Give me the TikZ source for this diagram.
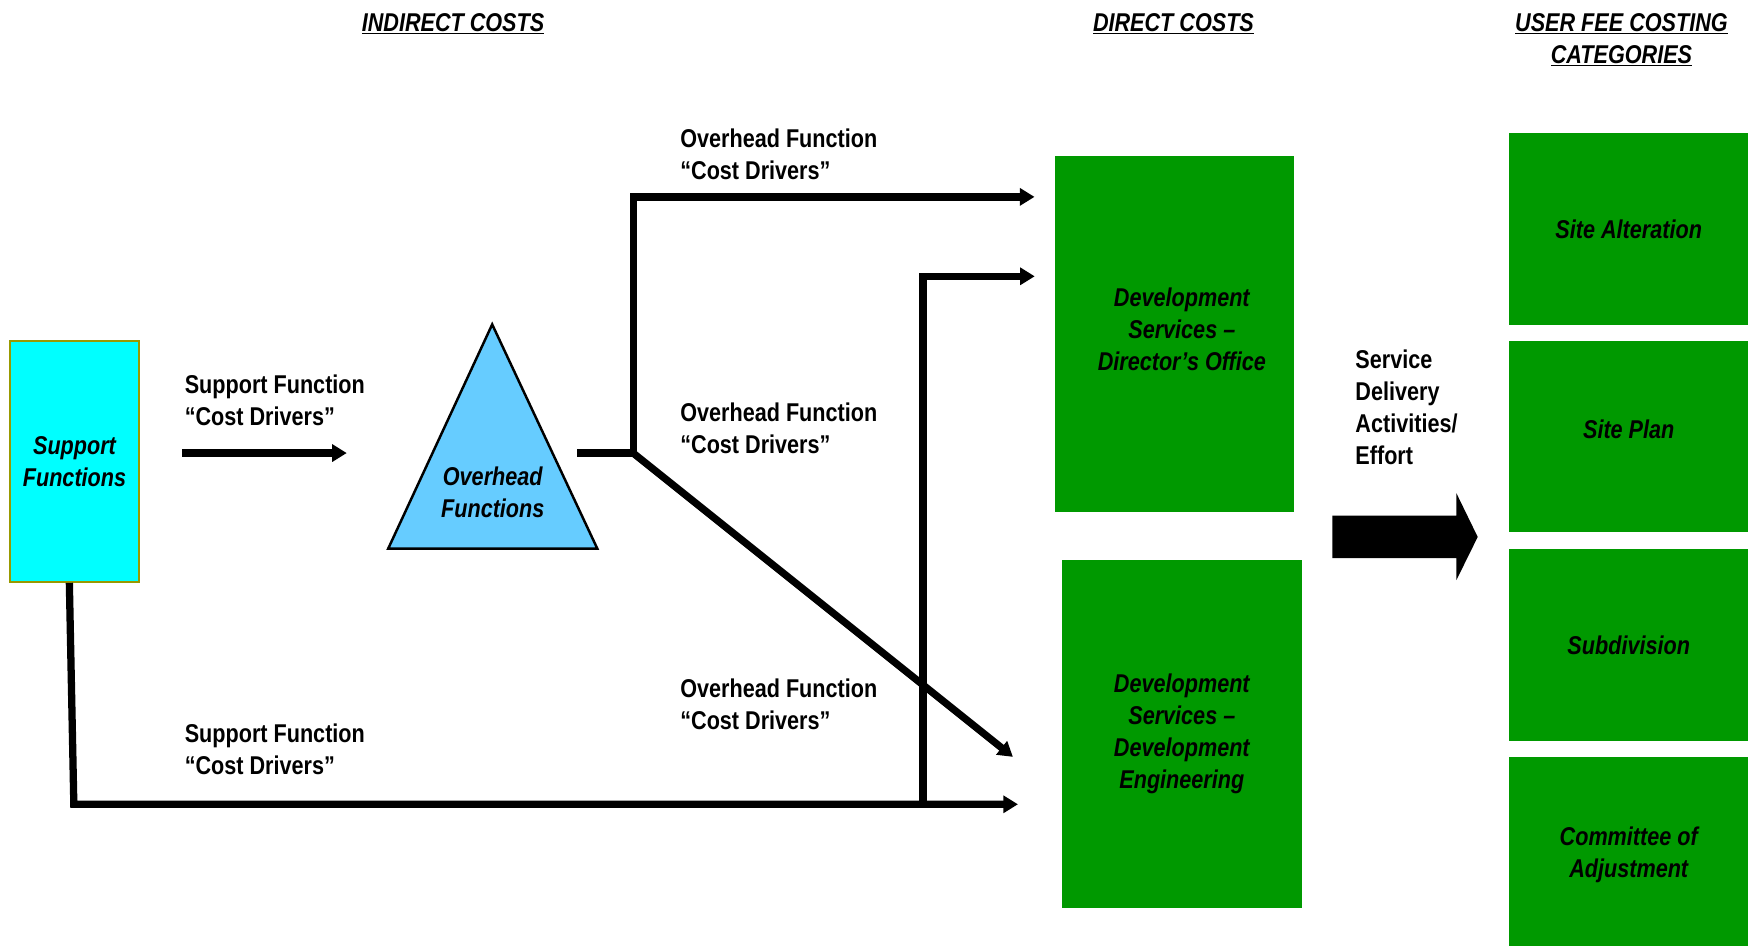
\documentclass[tikz,border=0pt]{standalone}
\usepackage{fontspec}
\setmainfont{Liberation Sans}[FakeStretch=0.84]
\usetikzlibrary{arrows.meta,calc}
\definecolor{boxgreen}{HTML}{009900}
\definecolor{supcyan}{HTML}{00FFFF}
\definecolor{supedge}{HTML}{999900}
\definecolor{ovblue}{HTML}{66CCFF}

\begin{document}
\begin{tikzpicture}[x=1pt,y=-1pt,
  txt/.style={font=\fontsize{23}{28.6}\selectfont\bfseries, inner sep=0pt, align=left, anchor=west},
  head/.style={font=\fontsize{23}{28.6}\selectfont\bfseries\itshape, inner sep=0pt, align=center, anchor=north},
  boxtext/.style={font=\fontsize{23}{28.6}\selectfont\bfseries\itshape, inner sep=0pt, align=center},
  cat/.style={boxtext, fill=boxgreen, draw=none, minimum width=214pt},
  flow/.style={line width=6.5pt, line join=miter, -{Triangle[length=13pt,width=15pt]}},
  bar/.style={line width=6.5pt},
]
\useasboundingbox (0,0) rectangle (1568,846);

% column headings
\node[head] (hind) at (405,11.8) {\underline{INDIRECT COSTS}};
\node[head] (hdir) at (1049,11.8) {\underline{DIRECT COSTS}};
\node[head] (hfee) at (1449.5,11.8) {\underline{USER FEE COSTING}\\\underline{CATEGORIES}};

% indirect cost pools
\node[boxtext, fill=supcyan, draw=supedge, line width=2pt,
      minimum width=115.6pt, minimum height=215.4pt] (sup) at (66.6,412.3) {Support\\Functions};
\draw[fill=ovblue, line width=2.2pt, line join=miter]
  (440,290) -- (534,490.5) -- (347,490.5) -- cycle;
\node[boxtext] (ovh) at (440.5,440) {Overhead\\Functions};

% direct cost centres
\node[cat, minimum height=318.5pt,
      label={[boxtext, xshift=6.5pt, yshift=4pt]center:{Development\\Services –\\Director’s Office}}]
  (db1) at (1050,298.75) {};
\node[cat, minimum height=311.4pt] (db2) at (1056.5,656.3)
  {Development\\Services –\\Development\\Engineering};

% user fee costing categories
\node[cat, minimum height=171.5pt] (c1) at (1456,204.75) {Site Alteration};
\node[cat, minimum height=171pt,
      label={[boxtext, yshift=7pt]center:Site Plan}] (c2) at (1456,390.5) {};
\node[cat, minimum height=171.5pt] (c3) at (1456,576.75) {Subdivision};
\node[cat, minimum height=169pt,
      label={[boxtext, yshift=-3pt]center:{Committee of\\Adjustment}}] (c4) at (1456,761.5) {};

% connector labels
\node[txt] (l1) at (165,358)   {Support Function\\“Cost Drivers”};
\node[txt] (l2) at (165,669.5) {Support Function\\“Cost Drivers”};
\node[txt] (l3) at (608,137.7) {Overhead Function\\“Cost Drivers”};
\node[txt] (l4) at (608,383)   {Overhead Function\\“Cost Drivers”};
\node[txt] (l5) at (608,629.5) {Overhead Function\\“Cost Drivers”};
\node[txt] (l6) at (1211.5,364) {Service\\Delivery\\Activities/\\Effort};

% routing points
\coordinate (s1) at (163,405);
\coordinate (s2) at (310,405);
\coordinate (ovout) at (516,405);
\coordinate (split) at (566,405);
\coordinate (tipA) at ($(db1.west)+(-18,0)$);
\coordinate (tipD) at (905.5,676.6);
\coordinate (supout) at ($(sup.south)+(-4.6,0)$);
\coordinate (corner) at (66,719);
\coordinate (tipC) at (910,719);
\coordinate (vfoot) at (825,722.25);
\coordinate (tipB) at (925,247);

% support function drivers
\draw[flow] (s1) -- (s2);
\draw[flow] (supout) -- (corner) -- (tipC);

% overhead function drivers
\draw[flow] (ovout) -- (split) |- (tipA |- 0,176);
\draw[flow] (split) -- (tipD);
\draw[flow] (vfoot) |- (tipB);

% service delivery block arrow
\fill (1191,461) -- (1302,461) -- (1302,441) -- (1321,480) -- (1302,518.5)
  -- (1302,499) -- (1191,499) -- cycle;
\end{tikzpicture}
\end{document}
